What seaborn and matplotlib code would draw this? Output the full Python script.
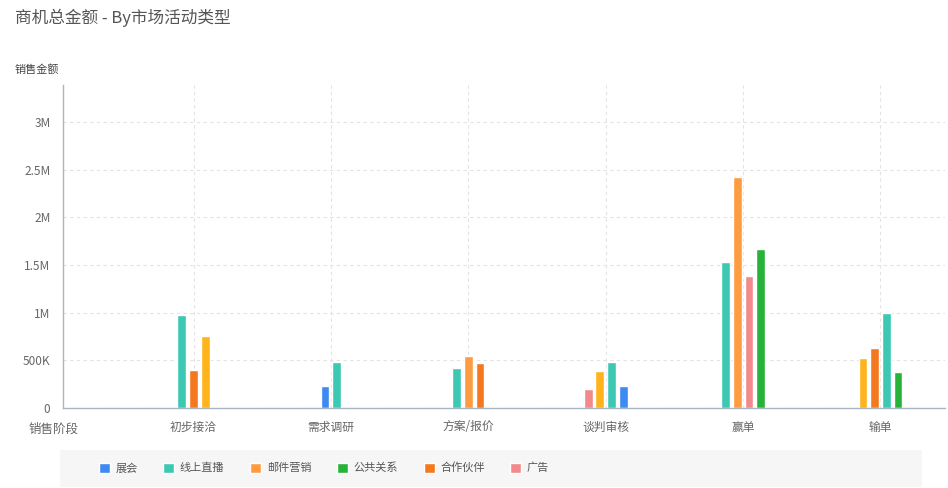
import numpy as np
import pandas as pd
import matplotlib
matplotlib.use("Agg")
import matplotlib.pyplot as plt
from matplotlib.patches import Rectangle
from matplotlib.ticker import FuncFormatter, MultipleLocator
import seaborn as sns

# Sales stages on the x axis
stages = ["初步接洽", "需求调研", "方案/报价", "谈判审核", "赢单", "输单"]

# One record per bar, listed in the order the bars sit inside each stage
bar_stage = ["初步接洽", "初步接洽", "初步接洽",
             "需求调研", "需求调研",
             "方案/报价", "方案/报价", "方案/报价",
             "谈判审核", "谈判审核", "谈判审核", "谈判审核",
             "赢单", "赢单", "赢单", "赢单",
             "输单", "输单", "输单", "输单"]
bar_channel = ["线上直播", "合作伙伴", "其他",
               "展会", "线上直播",
               "线上直播", "邮件营销", "合作伙伴",
               "广告", "其他", "线上直播", "展会",
               "线上直播", "邮件营销", "广告", "公共关系",
               "其他", "合作伙伴", "线上直播", "公共关系"]
bar_amount = [980000, 400000, 760000,
              230000, 480000,
              420000, 550000, 470000,
              200000, 390000, 480000, 230000,
              1530000, 2420000, 1385000, 1670000,
              520000, 630000, 1000000, 380000]

# Marketing channels and their colours
channels = ["展会", "线上直播", "邮件营销", "公共关系", "合作伙伴", "广告", "其他"]
channel_colors = ["#3D8AF2", "#3CC8B2", "#FF9B40", "#27B23A", "#F4781F", "#F28A8C", "#FFB41C"]
legend_channels = ["展会", "线上直播", "邮件营销", "公共关系", "合作伙伴", "广告"]

df = pd.DataFrame({"stage": bar_stage, "channel": bar_channel, "amount": bar_amount})

# Pack the bars of each stage side by side around the stage centre
bar_step = 0.085
df["slot"] = df.groupby("stage").cumcount()
df["n"] = df.groupby("stage")["stage"].transform("size")
df["pos"] = df["stage"].map({s: i for i, s in enumerate(stages)}) + \
    (df["slot"] - (df["n"] - 1) / 2) * bar_step

sns.set_theme(style="white")
plt.rcParams["font.family"] = ["Noto Sans CJK SC", "DejaVu Sans"]

fig = plt.figure(figsize=(9.48, 4.88), dpi=100)
ax = fig.add_axes([63 / 948, 80 / 488, (945 - 63) / 948, (408 - 85) / 488])

palette = dict(zip(channels, channel_colors))
sns.barplot(data=df, x="pos", y="amount", hue="channel", hue_order=channels,
            palette=palette, native_scale=True, dodge=False, width=0.75,
            saturation=1, errorbar=None, ax=ax, legend=True)

leg = ax.get_legend()
handles = list(leg.legend_handles)
labels = [t.get_text() for t in leg.get_texts()]
leg.remove()

ax.set_xlim(-0.95, 5.47)
ax.set_ylim(0, 3.39e6)

# Axis ticks and labels
ax.set_xticks(range(len(stages)))
ax.set_xticklabels(stages)
ax.yaxis.set_major_locator(MultipleLocator(500000))


def fmt(v, _):
    if v == 0:
        return "0"
    if v >= 1e6:
        s = f"{v / 1e6:.1f}".rstrip("0").rstrip(".")
        return s + "M"
    return f"{v / 1e3:.0f}K"


ax.yaxis.set_major_formatter(FuncFormatter(fmt))
ax.tick_params(axis="both", length=0, labelsize=8.5, labelcolor="#666666")
ax.tick_params(axis="y", pad=9)
ax.tick_params(axis="x", pad=9)
ax.set_xlabel("")
ax.set_ylabel("")

# Dashed grid
ax.grid(True, axis="both", linestyle=(0, (3, 3)), color="#E3E3E3", linewidth=0.8)
ax.set_axisbelow(True)

for side in ["top", "right"]:
    ax.spines[side].set_visible(False)
for side in ["left", "bottom"]:
    ax.spines[side].set_color("#A9B5C5")
    ax.spines[side].set_linewidth(1.0)

# Titles
fig.text(15 / 948, 1 - 18 / 488, "商机总金额 - By市场活动类型", fontsize=12,
         color="#555555", ha="left", va="center")
fig.text(15 / 948, 1 - 70 / 488, "销售金额", fontsize=8, color="#444444",
         ha="left", va="center")
fig.text(54 / 948, 1 - 429 / 488, "销售阶段", fontsize=9, color="#666666",
         ha="center", va="center")

# Legend band
fig.patches.append(Rectangle((60 / 948, 1 / 488), (922 - 60) / 948, 37 / 488,
                             transform=fig.transFigure, facecolor="#F6F6F6",
                             edgecolor="none", zorder=0))
keep = [labels.index(c) for c in legend_channels]
fig.legend([handles[i] for i in keep], [labels[i] for i in keep],
           loc="center", bbox_to_anchor=(324 / 948, 20 / 488), ncol=6,
           frameon=False, fontsize=8, labelcolor="#555555",
           handlelength=1.0, handleheight=1.0, handletextpad=0.5,
           columnspacing=2.3)

fig.savefig("out.png", dpi=100, facecolor="white")
